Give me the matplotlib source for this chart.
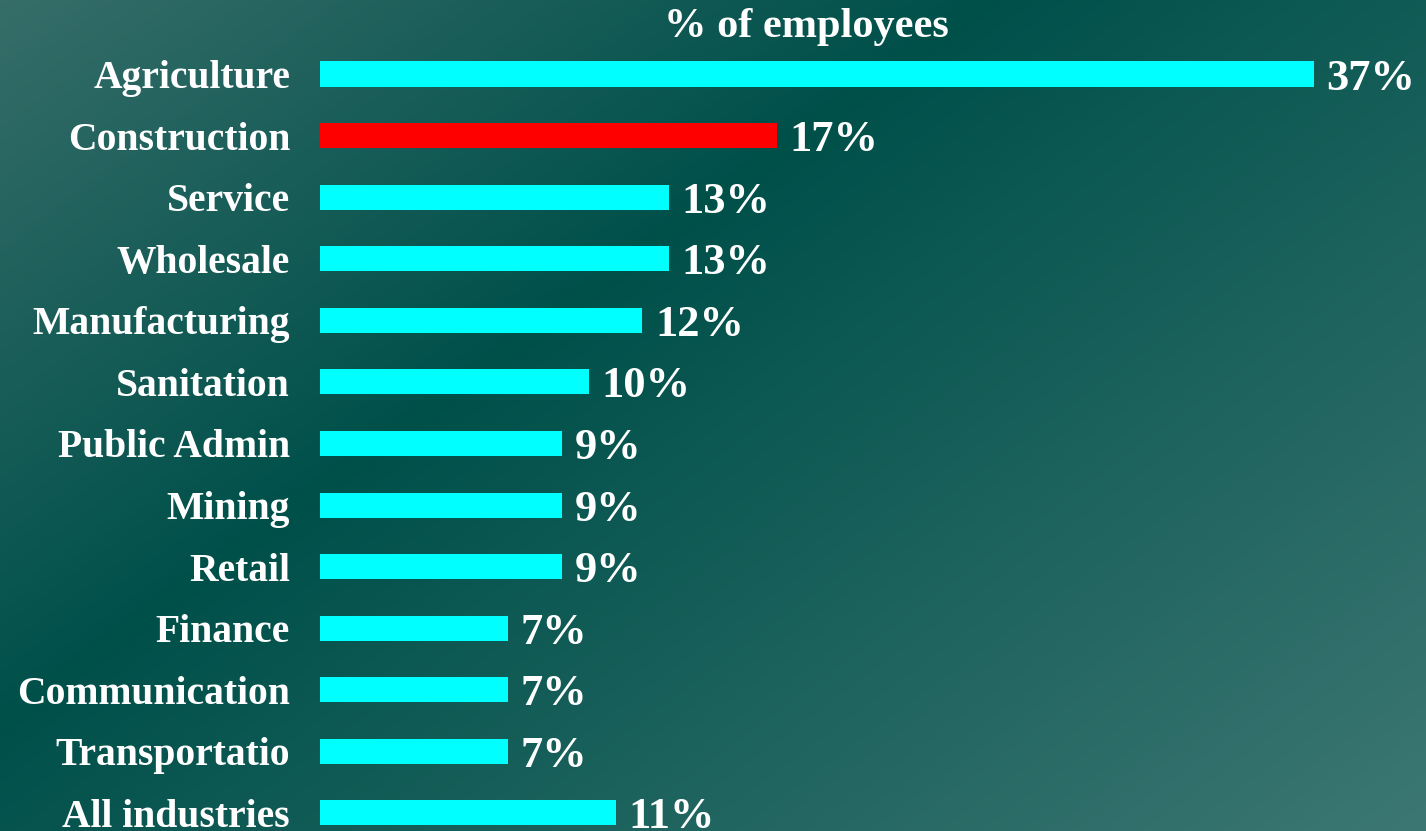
import numpy as np
import matplotlib
matplotlib.use("Agg")
import matplotlib.pyplot as plt
from matplotlib.colors import LinearSegmentedColormap

# share of employees by industry (top to bottom)
industries = ["Agriculture", "Construction", "Service", "Wholesale", "Manufacturing",
              "Sanitation", "Public Admin", "Mining", "Retail", "Finance",
              "Communication", "Transportatio", "All industries"]
pct = [37, 17, 13, 13, 12, 10, 9, 9, 9, 7, 7, 7, 11]
highlight = "Construction"

W, H, DPI = 1426, 831, 100
plt.rcParams["font.family"] = ["Liberation Serif", "DejaVu Serif"]
plt.rcParams["font.weight"] = "bold"

fig = plt.figure(figsize=(W / DPI, H / DPI), dpi=DPI)

# slide style diagonal gradient behind everything
bg = fig.add_axes([0, 0, 1, 1], zorder=0)
xx, yy = np.meshgrid(np.arange(W), np.arange(H))
t = xx / 980 + yy / 720
grad = LinearSegmentedColormap.from_list(
    "teal", [(0.0, "#366d69"), (1.0 / 2.65, "#00504a"), (1.0, "#3e7874")])
bg.imshow(t, cmap=grad, vmin=0, vmax=2.65, aspect="auto", interpolation="bilinear")
bg.axis("off")

ax = fig.add_axes([320 / W, 0, 1 - 320 / W, 1], zorder=1)
ax.patch.set_alpha(0)

ypos = np.arange(len(industries))
colors = ["#ff0000" if n == highlight else "#00ffff" for n in industries]
ax.barh(ypos, pct, height=0.406, color=colors, zorder=2)

ax.set_xlim(0, 37 * 1106 / 994)
ax.set_ylim(12.293, -1.2017)

ax.set_yticks(ypos)
ax.set_yticklabels(industries, fontsize=28.5, color="white", fontweight="bold",
                   va="center_baseline")
ax.tick_params(axis="y", length=0, pad=21.6)
ax.set_xticks([])
for s in ax.spines.values():
    s.set_visible(False)

for y, v in zip(ypos, pct):
    ax.annotate(f"{v}%", (v, y), xytext=(9, 0), textcoords="offset points",
                ha="left", va="center_baseline", fontsize=32, color="white",
                fontweight="bold")

fig.text(806 / W, 1 - 27 / H, "% of employees", ha="center", va="center",
         fontsize=30.5, color="white", fontweight="bold")

fig.savefig("out.png", dpi=DPI)
